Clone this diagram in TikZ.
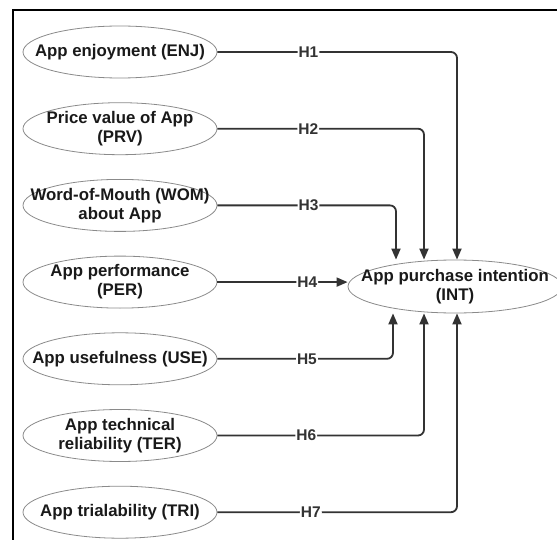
\documentclass[tikz,border=0pt]{standalone}
\usepackage{fontspec}
\setmainfont{Liberation Sans}
\usetikzlibrary{arrows.meta, positioning, shapes.geometric}

\definecolor{linegray}{HTML}{333333}
\definecolor{rimgray}{HTML}{8A8A8A}

\begin{document}
\begin{tikzpicture}[x=1pt, y=-1pt, >={Triangle[length=11pt, width=9pt]}, node distance=76.7pt,
    factor/.style = {draw=rimgray, line width=0.8pt, ellipse, minimum width=194pt, minimum height=52pt,
        label={[font=\fontsize{16.8}{19}\selectfont\bfseries, text=black!90, align=center]center:#1}},
    hyp/.style = {fill=white, inner sep=1pt, font=\fontsize{15.5}{18}\selectfont\bfseries, text=linegray},
    link/.style = {draw=linegray, line width=1.8pt, rounded corners=6pt}]

      \useasboundingbox (0,0) rectangle (557,540);
      \draw[line width=2pt] (13,540) -- (13,10) -- (557,10);

      % Nodes
      \node[factor={App enjoyment (ENJ)}] (enj) at (120,52) {};
      \node[factor={Price value of App\\(PRV)}, below of=enj] (prv) {};
      \node[factor={Word-of-Mouth (WOM)\\about App}, below of=prv] (wom) {};
      \node[factor={App performance\\(PER)}, below of=wom] (per) {};
      \node[factor={App usefulness (USE)}, below of=per] (use) {};
      \node[factor={App technical\\reliability (TER)}, below of=use] (ter) {};
      \node[factor={App trialability (TRI)}, below of=ter] (tri) {};
      \node[factor={App purchase intention\\(INT)}, minimum width=214pt, minimum height=53pt] (int) at (455,286.5) {};

      % Bends
      \coordinate (k1) at (457,0);
      \coordinate (k2) at (424,0);
      \coordinate (k3) at (396,0);
      \coordinate (k5) at (393,0);

      \draw[link, ->] (enj.east) -- node[hyp, pos=.38] {H1} (enj.east -| k1) -- (k1 |- int.north);
      \draw[link, ->] (prv.east) -- node[hyp, pos=.44] {H2} (prv.east -| k2) -- (k2 |- int.north);
      \draw[link, ->] (wom.east) -- node[hyp, pos=.51] {H3} (wom.east -| k3) -- (k3 |- int.north);
      \draw[link, ->] (per.east) -- node[hyp, pos=.69] {H4} (per.east -| int.west);
      \draw[link, ->] (use.east) -- node[hyp, pos=.51] {H5} (use.east -| k5) -- (k5 |- int.south);
      \draw[link, ->] (ter.east) -- node[hyp, pos=.43] {H6} (ter.east -| k2) -- (k2 |- int.south);
      \draw[link, ->] (tri.east) -- node[hyp, pos=.39] {H7} (tri.east -| k1) -- (k1 |- int.south);

    \end{tikzpicture}
\end{document}
